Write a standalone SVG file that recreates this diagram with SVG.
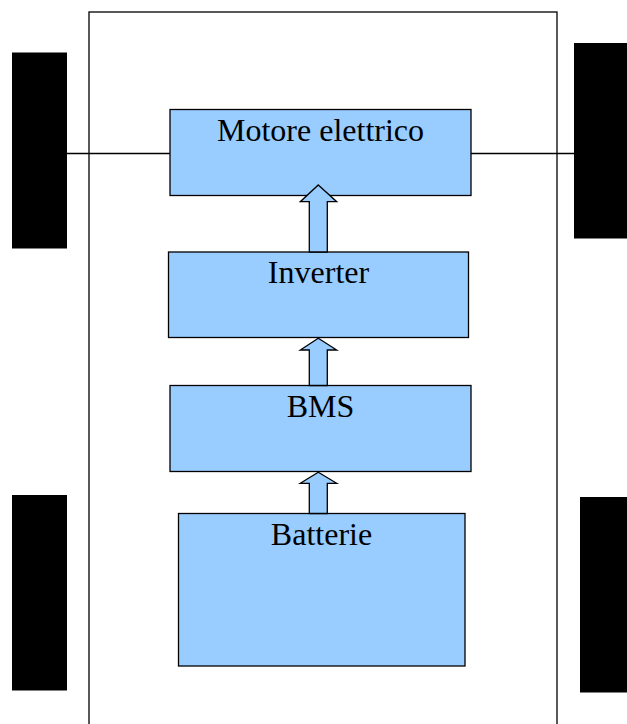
<svg xmlns="http://www.w3.org/2000/svg" width="627" height="724" viewBox="0 0 627 724">
<style>
.box{fill:#99CCFF;stroke:#000;stroke-width:1.3}
.wheel{fill:#000}
.lbl{font-family:"Liberation Serif","Times New Roman",serif;font-size:32px;fill:#000;text-anchor:middle}
.arr{fill:#99CCFF;stroke:#000;stroke-width:1.3;stroke-linejoin:miter}
</style>
<rect width="627" height="724" fill="#fff"/>
<g id="body"><rect x="89" y="12" width="468" height="730" fill="none" stroke="#000" stroke-width="1.3"/></g>
<g id="connectors">
<line x1="67" y1="153.5" x2="574" y2="153.5" stroke="#000" stroke-width="1.3"/>
</g>
<g id="wheel-front-left"><rect class="wheel" x="12" y="52.5" width="55" height="196"/></g>
<g id="wheel-front-right"><rect class="wheel" x="574" y="43" width="60" height="195.5"/></g>
<g id="wheel-rear-left"><rect class="wheel" x="12" y="495" width="55" height="195.5"/></g>
<g id="wheel-rear-right"><rect class="wheel" x="580" y="497" width="54" height="195.5"/></g>
<g id="motore"><rect class="box" x="170" y="109.5" width="301" height="86"/><text class="lbl" x="320.5" y="140.5">Motore elettrico</text></g>
<g id="inverter"><rect class="box" x="168.5" y="252" width="300" height="85.5"/><text class="lbl" x="318.5" y="282.5">Inverter</text></g>
<g id="bms"><rect class="box" x="170" y="385.5" width="301" height="86"/><text class="lbl" x="320.5" y="417">BMS</text></g>
<g id="batterie"><rect class="box" x="178.5" y="513.5" width="286.5" height="152.5"/><text class="lbl" x="321.5" y="545">Batterie</text></g>
<g id="arrows">
<polygon class="arr" points="318.3,185 336.7,201.7 327.3,201.7 327.3,252 309.3,252 309.3,201.7 300.3,201.7"/>
<polygon class="arr" points="318.3,338.3 336.7,350 327.3,350 327.3,385.5 309.3,385.5 309.3,350 300.3,350"/>
<polygon class="arr" points="318.3,472.3 336.7,483.3 327.3,483.3 327.3,513.5 309.3,513.5 309.3,483.3 300.3,483.3"/>
</g>
</svg>
